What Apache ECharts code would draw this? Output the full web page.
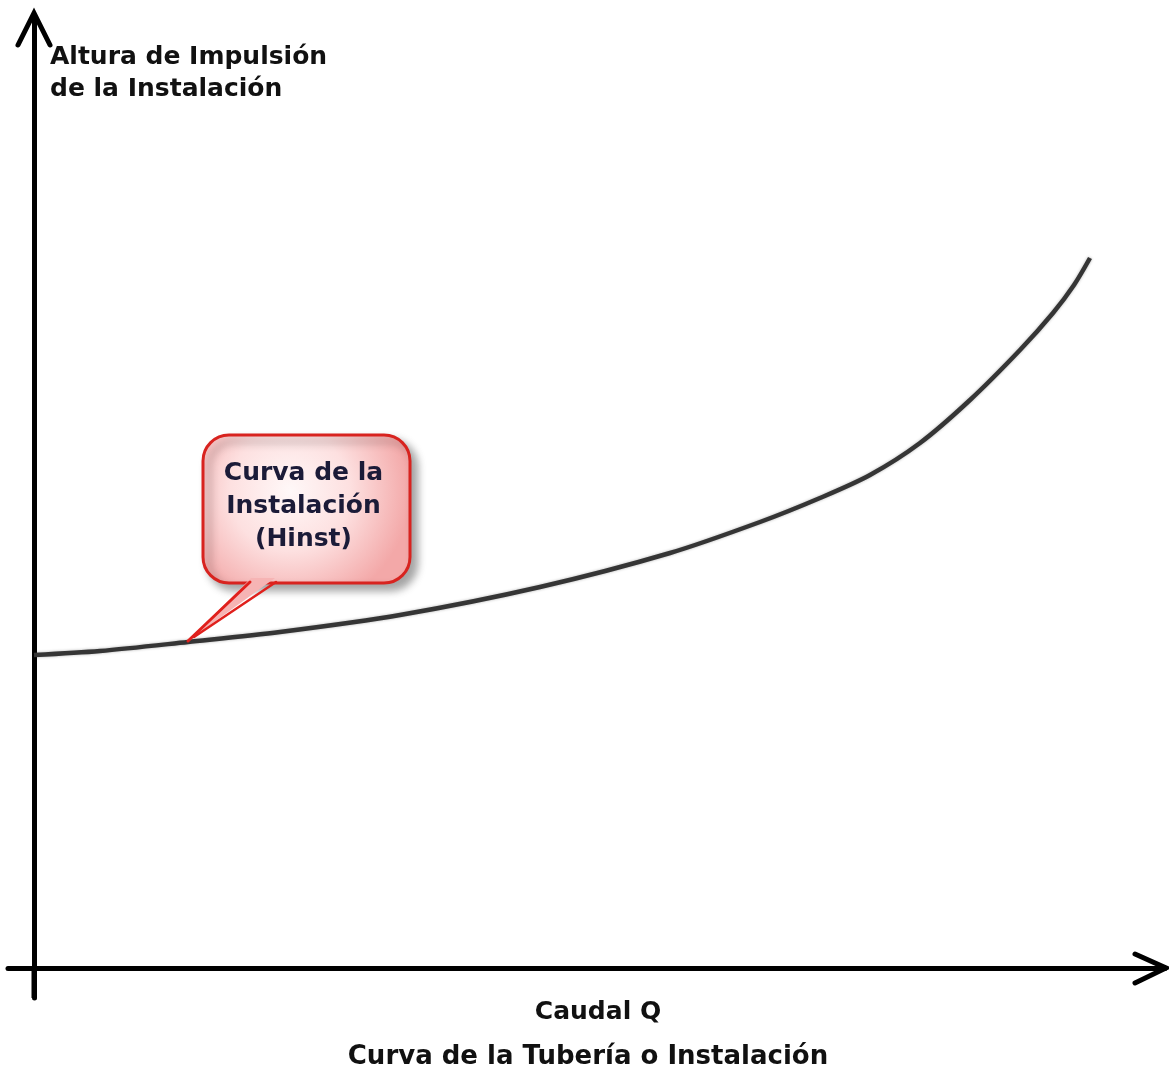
<!DOCTYPE html>
<html>
<head>
<meta charset="utf-8">
<script src="https://cdn.jsdelivr.net/npm/echarts@6/dist/echarts.min.js"></script>
<style>
  html, body { margin: 0; padding: 0; background: #ffffff; }
  #chart { width: 1169px; height: 1070px; }
</style>
</head>
<body>
<div id="chart"></div>
<script>
// Caudal Q (flow) and installation head H
const caudalQ = [0, 6.6, 15.4, 24.6, 36.6, 50.6, 63.6, 72.6, 78.6, 83.6, 88.6, 93.6, 98.6, 101.9, 104.0, 105.6];
const alturaH = [31.3, 31.7, 32.6, 33.6, 35.3, 38.1, 41.5, 44.6, 47.0, 49.3, 52.5, 56.8, 61.8, 65.5, 68.3, 71.0];

// Text labels
const yAxisTitle = ['Altura de Impulsión', 'de la Instalación'];
const xAxisTitle = 'Caudal Q';
const chartCaption = 'Curva de la Tubería o Instalación';
const calloutLines = ['Curva de la', 'Instalación', '(Hinst)'];
const calloutAnchorIndex = 2; // point on the curve the callout points to

const FONT = 'DejaVu Sans';

const chart = echarts.init(document.getElementById('chart'), null, { renderer: 'canvas' });

const curveData = caudalQ.map((q, i) => [q, alturaH[i]]);

chart.setOption({
  backgroundColor: '#ffffff',
  animation: false,
  grid: { left: 8, right: 4, top: 16, bottom: 72 },
  xAxis: {
    type: 'value', min: -2.6, max: 113.1,
    axisLine: { show: true, onZero: true, lineStyle: { color: '#000', width: 5 } },
    axisTick: { show: false }, axisLabel: { show: false }, splitLine: { show: false }
  },
  yAxis: {
    type: 'value', min: -3.0, max: 95.2,
    axisLine: { show: true, onZero: true, lineStyle: { color: '#000', width: 5 } },
    axisTick: { show: false }, axisLabel: { show: false }, splitLine: { show: false }
  },
  series: [{
    type: 'line',
    data: curveData,
    smooth: 0.3,
    showSymbol: false,
    lineStyle: { color: '#353535', width: 4.5, shadowColor: 'rgba(0,0,0,0.3)', shadowBlur: 3 },
    z: 3
  }]
});

// Arrowheads, titles and the callout are placed from the axis scales
function px(q, h) { return chart.convertToPixel({ gridIndex: 0 }, [q, h]); }

const origin = px(0, 0);
const xEnd = px(113.1, 0);
const yEnd = px(0, 95.2);
const anchor = px(caudalQ[calloutAnchorIndex], alturaH[calloutAnchorIndex]);

// Callout box geometry (relative to its anchor on the curve)
const boxX = anchor[0] + 15, boxY = anchor[1] - 207, boxW = 207, boxH = 148;
const tailL = [boxX + 47, boxY + boxH - 1];
const tailR = [boxX + 73, boxY + boxH - 1];
const tip = [anchor[0], anchor[1] - 1];

const pinkFill = {
  type: 'radial', x: 0.42, y: 0.38, r: 0.8,
  colorStops: [
    { offset: 0, color: '#fff8f8' },
    { offset: 0.5, color: '#fde0e0' },
    { offset: 1, color: '#f3a8a8' }
  ]
};

const textBase = { fontFamily: FONT, fontWeight: 'bold', fill: '#111' };

chart.setOption({
  graphic: [
    // y-axis arrowhead
    {
      type: 'polyline', z: 10,
      shape: { points: [[yEnd[0] - 16, yEnd[1] + 29], [yEnd[0], yEnd[1] - 3], [yEnd[0] + 16, yEnd[1] + 29]] },
      style: { stroke: '#000', lineWidth: 5, fill: null, lineJoin: 'miter', lineCap: 'round' }
    },
    // x-axis arrowhead
    {
      type: 'polyline', z: 10,
      shape: { points: [[xEnd[0] - 30, xEnd[1] - 14], [xEnd[0] + 1, xEnd[1]], [xEnd[0] - 30, xEnd[1] + 15]] },
      style: { stroke: '#000', lineWidth: 5, fill: null, lineJoin: 'miter', lineCap: 'round' }
    },
    // y-axis extends slightly below the x axis
    {
      type: 'line', z: 9,
      shape: { x1: origin[0], y1: origin[1], x2: origin[0], y2: origin[1] + 30 },
      style: { stroke: '#000', lineWidth: 5 }
    },
    // axis titles
    {
      type: 'text', z: 10,
      style: Object.assign({}, textBase, {
        x: origin[0] + 16, y: 57, text: yAxisTitle[0], fontSize: 25,
        verticalAlign: 'middle'
      })
    },
    {
      type: 'text', z: 10,
      style: Object.assign({}, textBase, {
        x: origin[0] + 16, y: 89, text: yAxisTitle[1], fontSize: 25,
        verticalAlign: 'middle'
      })
    },
    {
      type: 'text', z: 10,
      style: Object.assign({}, textBase, {
        x: 598, y: 1012, text: xAxisTitle, fontSize: 25,
        align: 'center', verticalAlign: 'middle'
      })
    },
    {
      type: 'text', z: 10,
      style: Object.assign({}, textBase, {
        x: 588, y: 1057, text: chartCaption, fontSize: 26,
        align: 'center', verticalAlign: 'middle'
      })
    },
    // callout box
    {
      type: 'rect', z: 20,
      shape: { x: boxX, y: boxY, width: boxW, height: boxH, r: 26 },
      style: {
        fill: pinkFill, stroke: '#d8231f', lineWidth: 3,
        shadowColor: 'rgba(0,0,0,0.35)', shadowBlur: 9, shadowOffsetX: 6, shadowOffsetY: 6
      }
    },
    // callout tail
    {
      type: 'polygon', z: 21,
      shape: { points: [[tailL[0] + 1, tailL[1] - 4], [tailR[0] - 1, tailR[1] - 4], tip] },
      style: { fill: '#f6b4b4' }
    },
    {
      type: 'polyline', z: 22,
      shape: { points: [tailL, tip] },
      style: { stroke: '#e0201c', lineWidth: 3, fill: null, lineCap: 'round' }
    },
    {
      type: 'polyline', z: 22,
      shape: { points: [tailR, [tip[0] + 6, tip[1] - 4]] },
      style: { stroke: '#e0201c', lineWidth: 2.5, fill: null, lineCap: 'round' }
    },
    // callout text
    {
      type: 'text', z: 23,
      style: Object.assign({}, textBase, {
        x: boxX + boxW / 2 - 3, y: boxY + boxH / 2 - 3, text: calloutLines.join('\n'),
        fontSize: 25, fill: '#1b1b38', align: 'center',
        verticalAlign: 'middle', lineHeight: 33
      })
    }
  ]
});
</script>
</body>
</html>
